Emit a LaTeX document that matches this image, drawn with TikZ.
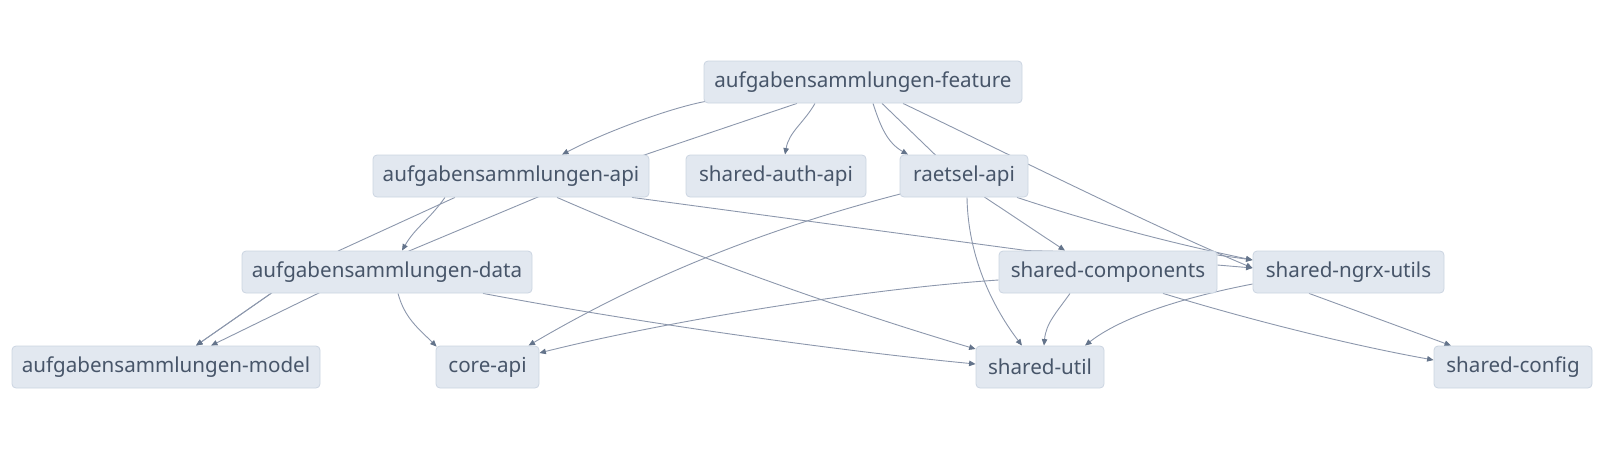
\documentclass[tikz,border=0pt]{standalone}
\usepackage{fontspec}
\setmainfont{Noto Sans}
\usetikzlibrary{arrows.meta}
\definecolor{nodefill}{HTML}{E2E8F0}
\definecolor{nodeline}{HTML}{CBD5E1}
\definecolor{txt}{HTML}{475569}
\definecolor{edgec}{HTML}{8C97AC}
\definecolor{arrc}{HTML}{64748B}
\pgfdeclarelayer{background}
\pgfsetlayers{background,main}
\tikzset{
  pkg/.style={draw=nodeline, fill=nodefill, rounded corners=4pt, line width=0.8pt,
    minimum height=42pt, inner sep=0pt, text=txt, font=\fontsize{20.6}{24}\selectfont},
  dep/.style={draw=edgec, line width=0.9pt, -{Triangle[length=6.5pt,width=5.5pt,color=arrc]}},
}
\begin{document}
\begin{tikzpicture}[x=1pt,y=-1pt]
\useasboundingbox (0,0) rectangle (1610,458);
\node[pkg, minimum width=318pt] (feat) at (863,82) {aufgabensammlungen-feature};
\node[pkg, minimum width=276pt] (api) at (511,176) {aufgabensammlungen-api};
\node[pkg, minimum width=180pt] (auth) at (776,176) {shared-auth-api};
\node[pkg, minimum width=128pt] (rts) at (964,176) {raetsel-api};
\node[pkg, minimum width=290pt] (data) at (387,272) {aufgabensammlungen-data};
\node[pkg, minimum width=218pt] (comp) at (1108,272) {shared-components};
\node[pkg, minimum width=191pt] (ngrx) at (1348.5,272) {shared-ngrx-utils};
\node[pkg, minimum width=308pt] (model) at (166,367) {aufgabensammlungen-model};
\node[pkg, minimum width=103pt] (core) at (487.5,367) {core-api};
\node[pkg, minimum width=128pt] (util) at (1040,367) {shared-util};
\node[pkg, minimum width=158pt] (config) at (1513,367) {shared-config};

\begin{pgfonlayer}{background}
% feature
\draw[dep] ([shift={(2pt,2pt)}]feat.south west) .. controls (670,108) and (605,132) .. ([xshift=51pt]api.north);
\draw[dep] ([xshift=-66pt]feat.south) -- ([xshift=-4pt]api.north east) -- ([xshift=26pt]api.south)
  -- ([xshift=23pt]data.north) -- ([xshift=-69pt]data.south) -- ([xshift=45pt]model.north);
\draw[dep] ([xshift=-48pt]feat.south) to[out=-120,in=80] ([xshift=9pt]auth.north);
\draw[dep] ([xshift=10pt]feat.south) to[out=-72,in=150] ([xshift=-56pt]rts.north);
\draw[dep] ([xshift=19pt]feat.south) -- ([xshift=-29pt]rts.north) -- ([xshift=21pt]rts.south)
  -- ([xshift=-43pt]comp.north);
\draw[dep] ([xshift=40pt]feat.south) .. controls (1000,150) and (1150,225) .. ([yshift=4pt]ngrx.west);
% raetsel
\draw[dep] ([shift={(3pt,4pt)}]rts.south west) .. controls (760,230) and (640,280) .. ([xshift=41pt]core.north);
\draw[dep] ([xshift=3pt]rts.south) .. controls (968,260) and (995,310) .. ([xshift=-18pt]util.north);
\draw[dep] ([xshift=53pt]rts.south) .. controls (1100,225) and (1180,245) .. ([yshift=12pt]ngrx.west);
% api
\draw[dep] ([xshift=-66pt]api.south) to[out=-125,in=60] ([xshift=15pt]data.north);
\draw[dep] ([xshift=-56pt]api.south) -- ([xshift=-48pt]data.north) -- ([xshift=-116pt]data.south)
  -- ([xshift=30pt]model.north);
\draw[dep] ([xshift=46pt]api.south) .. controls (700,260) and (860,315) .. ([yshift=18pt]util.west);
\draw[dep] ([xshift=121pt]api.south) -- ([xshift=-81pt]comp.north) -- ([yshift=17pt]comp.east)
  -- ([yshift=12pt]ngrx.west);
% data
\draw[dep] ([xshift=-116pt]data.south) -- ([xshift=30pt]model.north);
\draw[dep] ([xshift=11pt]data.south) to[out=-75,in=135] ([shift={(1pt,-1pt)}]core.north west);
\draw[dep] ([xshift=96pt]data.south) .. controls (650,325) and (850,352) .. ([yshift=3pt]util.west);
% components
\draw[dep] ([yshift=-8pt]comp.west) .. controls (850,290) and (650,325) .. ([yshift=14pt]core.east);
\draw[dep] ([xshift=-38pt]comp.south) to[out=-125,in=85] ([xshift=4pt]util.north);
\draw[dep] ([xshift=55pt]comp.south) .. controls (1250,320) and (1350,345) .. ([yshift=7pt]config.west);
\draw[dep] ([yshift=7pt]comp.east) -- ([yshift=4pt]ngrx.west);
% ngrx
\draw[dep] ([yshift=-12pt]ngrx.west) .. controls (1180,298) and (1120,318) .. ([xshift=45pt]util.north);
\draw[dep] ([xshift=-39.5pt]ngrx.south) -- ([xshift=-62pt]config.north);
\end{pgfonlayer}
\end{tikzpicture}
\end{document}
